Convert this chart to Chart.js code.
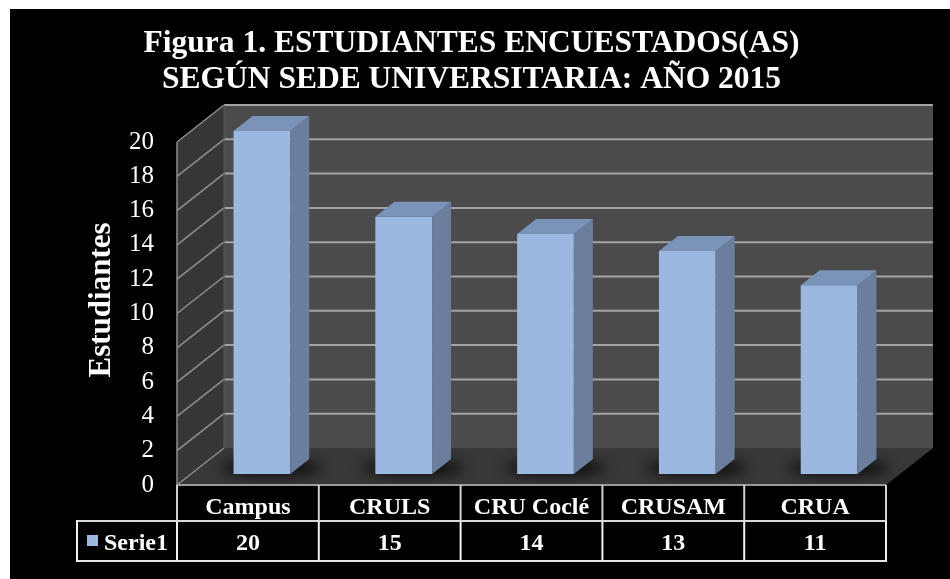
<!DOCTYPE html>
<html>
<head>
<meta charset="utf-8">
<script src="https://cdn.jsdelivr.net/npm/chart.js@4/dist/chart.umd.min.js"></script>
<style>
  html, body { margin: 0; padding: 0; background: #fff; }
  #wrap { width: 950px; height: 579px; }
</style>
</head>
<body>
<div id="wrap"><canvas id="chart" width="950" height="579"></canvas></div>
<script>
const titleLines = ['Figura 1. ESTUDIANTES ENCUESTADOS(AS)', 'SEGÚN SEDE UNIVERSITARIA: AÑO 2015'];
const yTitle = 'Estudiantes';
const categories = ['Campus', 'CRULS', 'CRU Coclé', 'CRUSAM', 'CRUA'];
const seriesName = 'Serie1';
const values = [20, 15, 14, 13, 11];
const yTicks = [0, 2, 4, 6, 8, 10, 12, 14, 16, 18, 20];

// 3d look
const DEPTH_X = 47, DEPTH_Y = 37;   // wall depth
const BAR_DX = 14, BAR_DY = -11;    // bar front face sits a bit inside
const SIDE_X = 19, SIDE_Y = 15;     // bar thickness
const SERIF = "'Liberation Serif', 'Times New Roman', serif";

function poly(ctx, pts, fill) {
  ctx.beginPath();
  ctx.moveTo(pts[0][0], pts[0][1]);
  for (let i = 1; i < pts.length; i++) ctx.lineTo(pts[i][0], pts[i][1]);
  ctx.closePath();
  ctx.fillStyle = fill;
  ctx.fill();
}

function line(ctx, x1, y1, x2, y2, color, w) {
  ctx.beginPath();
  ctx.moveTo(x1, y1);
  ctx.lineTo(x2, y2);
  ctx.strokeStyle = color;
  ctx.lineWidth = w;
  ctx.stroke();
}

const scene3d = {
  id: 'scene3d',
  beforeDraw(chart) {
    const { ctx, width, height } = chart;
    ctx.save();
    ctx.fillStyle = '#fff';
    ctx.fillRect(0, 0, width, height);
    ctx.fillStyle = '#000';
    ctx.fillRect(10, 9, width - 10, height - 9);
    ctx.restore();
  },
  beforeDatasetsDraw(chart) {
    const { ctx, chartArea: a } = chart;
    const y = chart.scales.y;
    const L = a.left, R = a.right;
    const T = y.getPixelForValue(yTicks[yTicks.length - 1]);
    const B = y.getPixelForValue(0);
    ctx.save();
    // back wall, left wall, floor
    poly(ctx, [[L + DEPTH_X, T - DEPTH_Y], [R + DEPTH_X, T - DEPTH_Y], [R + DEPTH_X, B - DEPTH_Y], [L + DEPTH_X, B - DEPTH_Y]], '#4b4b4b');
    poly(ctx, [[L, T], [L + DEPTH_X, T - DEPTH_Y], [L + DEPTH_X, B - DEPTH_Y], [L, B]], '#363636');
    poly(ctx, [[L, B], [R, B], [R + DEPTH_X, B - DEPTH_Y], [L + DEPTH_X, B - DEPTH_Y]], '#383838');
    // gridlines
    yTicks.forEach(v => {
      const py = y.getPixelForValue(v);
      if (v > 0) line(ctx, L + DEPTH_X, py - DEPTH_Y, R + DEPTH_X, py - DEPTH_Y, '#a3a3a3', 2);
      line(ctx, L, py, L + DEPTH_X, py - DEPTH_Y, '#8f8f8f', 1.5);
    });
    line(ctx, L, T, L, B, '#8f8f8f', 1.5);
    line(ctx, L + DEPTH_X, T - DEPTH_Y, L + DEPTH_X, B - DEPTH_Y, '#5a5a5a', 1);
    // soft shadows under the bars
    const meta = chart.getDatasetMeta(0);
    ctx.filter = 'blur(7px)';
    meta.data.forEach(bar => {
      const { x, base, width } = bar.getProps(['x', 'base', 'width'], true);
      ctx.beginPath();
      ctx.ellipse(x + BAR_DX + SIDE_X / 2, base + BAR_DY - 6, width / 2 + 22, 8, 0, 0, Math.PI * 2);
      ctx.fillStyle = 'rgba(0,0,0,0.8)';
      ctx.fill();
    });
    ctx.filter = 'none';
    ctx.restore();
  },
  beforeDatasetDraw(chart) {
    chart.ctx.save();
    chart.ctx.translate(BAR_DX, BAR_DY);
  },
  afterDatasetDraw(chart) {
    chart.ctx.restore();
  },
  afterDatasetsDraw(chart) {
    const { ctx } = chart;
    const meta = chart.getDatasetMeta(0);
    ctx.save();
    meta.data.forEach(bar => {
      const { x, y, base, width } = bar.getProps(['x', 'y', 'base', 'width'], true);
      const l = x - width / 2 + BAR_DX, r = x + width / 2 + BAR_DX;
      const t = y + BAR_DY, b = base + BAR_DY;
      poly(ctx, [[r, t], [r + SIDE_X, t - SIDE_Y], [r + SIDE_X, b - SIDE_Y], [r, b]], '#6c7e9e');
      poly(ctx, [[l, t], [l + SIDE_X, t - SIDE_Y], [r + SIDE_X, t - SIDE_Y], [r, t]], '#7b93b9');
    });
    ctx.restore();
  },
  afterDraw(chart) {
    const { ctx, chartArea: a } = chart;
    const xs = chart.scales.x;
    const colW = (xs.right - xs.left) / categories.length;
    const top = a.bottom, mid = top + 36, bot = top + 76;
    const legLeft = 77;
    ctx.save();

    // y axis title
    ctx.translate(102, 300);
    ctx.rotate(-Math.PI / 2);
    ctx.fillStyle = '#fff';
    ctx.font = 'bold 31px ' + SERIF;
    ctx.textAlign = 'center';
    ctx.textBaseline = 'middle';
    ctx.fillText(yTitle, 0, 0);
    ctx.setTransform(1, 0, 0, 1, 0, 0);

    // data table grid
    line(ctx, xs.left, top, xs.right, top, '#9a9a9a', 2);
    for (let i = 0; i <= categories.length; i++) {
      const px = xs.left + i * colW;
      line(ctx, px, top, px, mid, '#d0d0d0', 2);
      line(ctx, px, mid, px, bot, '#f2f2f2', 2);
    }
    line(ctx, legLeft, mid, xs.right, mid, '#d9d9d9', 2);
    line(ctx, legLeft, bot, xs.right + 1, bot, '#e6e6e6', 2);
    line(ctx, legLeft, mid - 1, legLeft, bot + 1, '#f2f2f2', 2);

    // table text
    ctx.fillStyle = '#fff';
    ctx.font = 'bold 24px ' + SERIF;
    ctx.textAlign = 'center';
    ctx.textBaseline = 'middle';
    categories.forEach((c, i) => {
      const cx = xs.getPixelForValue(i);
      ctx.fillText(c, cx, (top + mid) / 2 + 5);
      ctx.fillText(String(values[i]), cx, (mid + bot) / 2 + 3);
    });
    ctx.fillStyle = '#9cb8e0';
    ctx.fillRect(87, 535, 11, 11);
    ctx.fillStyle = '#fff';
    ctx.textAlign = 'left';
    ctx.fillText(seriesName, 104, (mid + bot) / 2 + 3);
    ctx.restore();
  }
};

new Chart(document.getElementById('chart'), {
  type: 'bar',
  data: {
    labels: categories,
    datasets: [{
      label: seriesName,
      data: values,
      backgroundColor: '#9cb8e0',
      borderWidth: 0,
      categoryPercentage: 1,
      barPercentage: 0.4,
      clip: false
    }]
  },
  options: {
    responsive: false,
    animation: false,
    events: [],
    layout: { padding: { left: 57, right: 64, top: 0, bottom: 94 } },
    plugins: {
      legend: { display: false },
      tooltip: { enabled: false },
      title: {
        display: true,
        text: titleLines,
        color: '#fff',
        font: { family: SERIF, size: 31.5, weight: 'bold', lineHeight: 36 / 31.5 },
        padding: { top: 26, bottom: 44 }
      }
    },
    scales: {
      x: { display: false },
      y: {
        min: yTicks[0],
        max: yTicks[yTicks.length - 1],
        afterFit: s => { s.width = 120; },
        grid: { display: false, drawTicks: false },
        border: { display: false },
        ticks: {
          stepSize: 2,
          padding: 23,
          color: '#fff',
          font: { family: SERIF, size: 25 }
        }
      }
    }
  },
  plugins: [scene3d]
});
</script>
</body>
</html>
